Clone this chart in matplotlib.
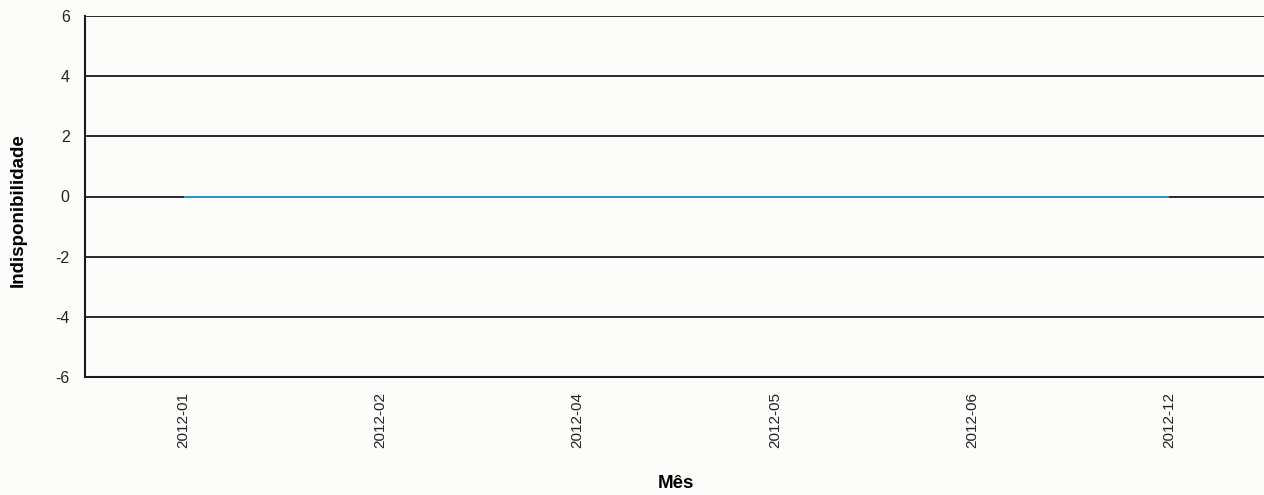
import matplotlib
matplotlib.use("Agg")
import matplotlib.pyplot as plt

categories = ["2012-01", "2012-02", "2012-04", "2012-05", "2012-06", "2012-12"]
values = [0, 0, 0, 0, 0, 0]
yticks = [-6, -4, -2, 0, 2, 4, 6]

plt.rcParams['font.family'] = ['Liberation Sans', 'DejaVu Sans']
W, H = 1264, 495
AX_L, AX_R, AX_T, AX_B = 85, 1267.6, 16, 377
fig = plt.figure(figsize=(W / 100, H / 100), dpi=100, facecolor="#fcfcfa")
ax = fig.add_axes([AX_L / W, (H - AX_B) / H, (AX_R - AX_L) / W, (AX_B - AX_T) / H])
ax.set_facecolor("#fcfcfa")

x = list(range(len(categories)))
ax.set_xlim(-0.5, len(categories) - 0.5)
ax.set_ylim(-6, 6)
for yv in yticks:
    ax.axhline(yv, color="#1a1a1a", lw=1.3, zorder=1)
ax.plot(x, values, color="#2e9fd6", lw=1.3, zorder=3, solid_capstyle="butt")

ax.set_xticks(x)
ax.set_xticklabels(categories, rotation=90, fontsize=11, color="#222222")
ax.set_yticks(yticks)
ax.set_yticklabels([str(v) for v in yticks], fontsize=11.5, color="#222222")
ax.tick_params(axis="both", length=0)
ax.tick_params(axis="x", pad=11)
ax.tick_params(axis="y", pad=11)
for s in ["top", "right"]:
    ax.spines[s].set_visible(False)
for s in ["left", "bottom"]:
    ax.spines[s].set_color("#1a1a1a")
    ax.spines[s].set_linewidth(1.5)

ax.set_ylabel("Indisponibilidade", fontsize=13.5, fontweight="bold")
ax.set_xlabel("Mês", fontsize=13.5, fontweight="bold")
ax.yaxis.set_label_coords(-(AX_L - 18) / (AX_R - AX_L), (AX_B - 210) / (AX_B - AX_T))
ax.yaxis.label.set_va("center")
ax.xaxis.set_label_coords((676 - AX_L) / (AX_R - AX_L), -(484 - AX_B) / (AX_B - AX_T))
ax.xaxis.label.set_va("center")

fig.savefig("out.png", dpi=100, facecolor=fig.get_facecolor())
